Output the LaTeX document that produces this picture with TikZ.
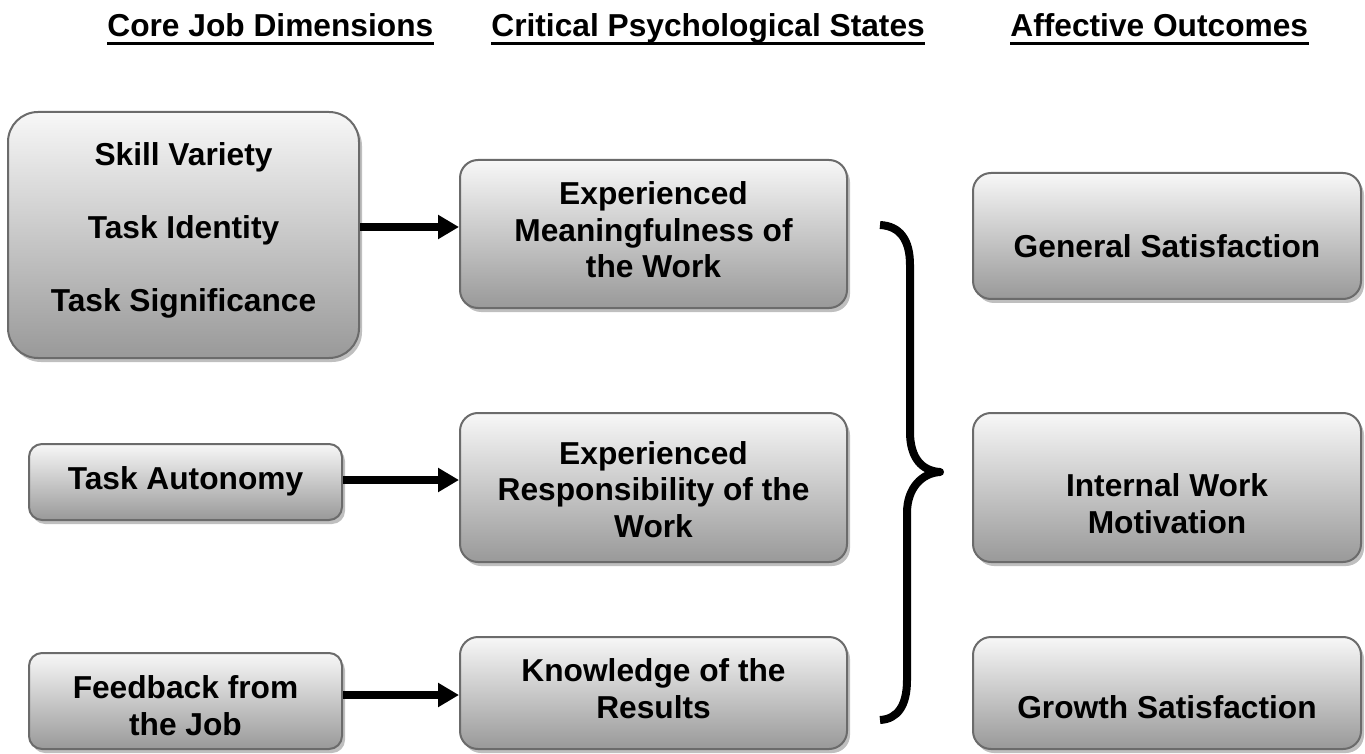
\documentclass[tikz,border=0pt]{standalone}
\usepackage{fontspec}
\setmainfont{Liberation Sans}
\usetikzlibrary{arrows.meta,shadows}
\begin{document}
\begin{tikzpicture}[x=0.5pt,y=-0.5pt,
  box/.style={rectangle, draw=black!58, line width=1pt, top color=black!3, bottom color=black!40,
    drop shadow={shadow xshift=1.5pt, shadow yshift=-2pt, fill=black!25, opacity=1},
    inner sep=0pt},
  lbl/.style={font=\fontsize{15.85}{18.25}\selectfont\bfseries, align=center, inner sep=0pt, anchor=base},
  hdr/.style={font=\fontsize{15.85}{18.25}\selectfont\bfseries, inner sep=0pt, anchor=base west},
  ul/.style={line width=1.5pt},
  arr/.style={line width=4pt, -{Triangle[length=10.5pt,width=11.5pt]}},
  brace/.style={line width=4pt, line join=round}
]
\useasboundingbox (0,0) rectangle (1365,754);

% headers
\node[hdr] (h1) at (107,37) {Core Job Dimensions\ };
\node[hdr] (h2) at (491,37) {Critical Psychological States};
\node[hdr] (h3) at (1010,37) {Affective Outcomes};
\draw[ul] ([yshift=-3.25pt]h1.base west) -- ([yshift=-3.25pt]h1.base east);
\draw[ul] ([yshift=-3.25pt]h2.base west) -- ([yshift=-3.25pt]h2.base east);
\draw[ul] ([yshift=-3.25pt]h3.base west) -- ([yshift=-3.25pt]h3.base east);

% boxes
\node[box, rounded corners=15pt, minimum width=175.5pt, minimum height=123pt] (skill) at (183.5,235) {};
\node[box, rounded corners=6.5pt, minimum width=156.5pt, minimum height=38pt] (auto) at (185.5,482) {};
\node[box, rounded corners=6.5pt, minimum width=156.5pt, minimum height=48pt] (feed) at (185.5,701) {};
\node[box, rounded corners=9pt, minimum width=193.5pt, minimum height=74pt] (mean) at (653.5,234) {};
\node[box, rounded corners=9pt, minimum width=193.5pt, minimum height=74.5pt] (resp) at (653.5,487.5) {};
\node[box, rounded corners=9pt, minimum width=193.5pt, minimum height=56pt] (know) at (653.5,693) {};
\node[box, rounded corners=9pt, minimum width=194pt, minimum height=63pt] (gen) at (1167,236) {};
\node[box, rounded corners=9pt, minimum width=194pt, minimum height=74.5pt] (intw) at (1167,487.5) {};
\node[box, rounded corners=9pt, minimum width=194pt, minimum height=56pt] (grow) at (1167,693) {};

% texts (base anchor = baseline of the last line)
\node[lbl] (tskill) at (183.5,312) {Skill Variety\\[18.5pt]Task Identity\\[18.5pt]Task Significance};
\node[lbl] (tauto) at (185.5,489) {Task Autonomy};
\begin{scope}
\clip (0,600) rectangle (420,735.5);
\node[lbl] (tfeed) at (185.5,735) {Feedback from\\the Job};
\end{scope}
\node[lbl] (tmean) at (653.5,278) {Experienced\\Meaningfulness of\\the Work};
\node[lbl] (tresp) at (653.5,537) {Experienced\\Responsibility of the\\Work};
\node[lbl] (tknow) at (653.5,718) {Knowledge of the\\Results};
\node[lbl] (tgen) at (1167,258) {General Satisfaction};
\node[lbl] (tintw) at (1167,533) {Internal Work\\Motivation};
\node[lbl] (tgrow) at (1167,718) {Growth Satisfaction};

% arrows
\coordinate (a1) at ([yshift=4pt]skill.east);
\coordinate (a2) at ([yshift=1pt]auto.east);
\coordinate (a3) at ([yshift=3pt]feed.east);
\draw[arr] (a1) -- (a1 -| mean.west);
\draw[arr] (a2) -- (a2 -| resp.west);
\draw[arr] (a3) -- (a3 -| know.west);

% brace
\draw[brace] (880,225) .. controls (900,226) and (910,240) .. (910,265) -- (910,432)
  .. controls (910,458) and (922,471) .. (940,472)
  .. controls (922,473) and (907,488) .. (907,513) -- (907,680)
  .. controls (907,705) and (898,719) .. (880,720);
\end{tikzpicture}
\end{document}
